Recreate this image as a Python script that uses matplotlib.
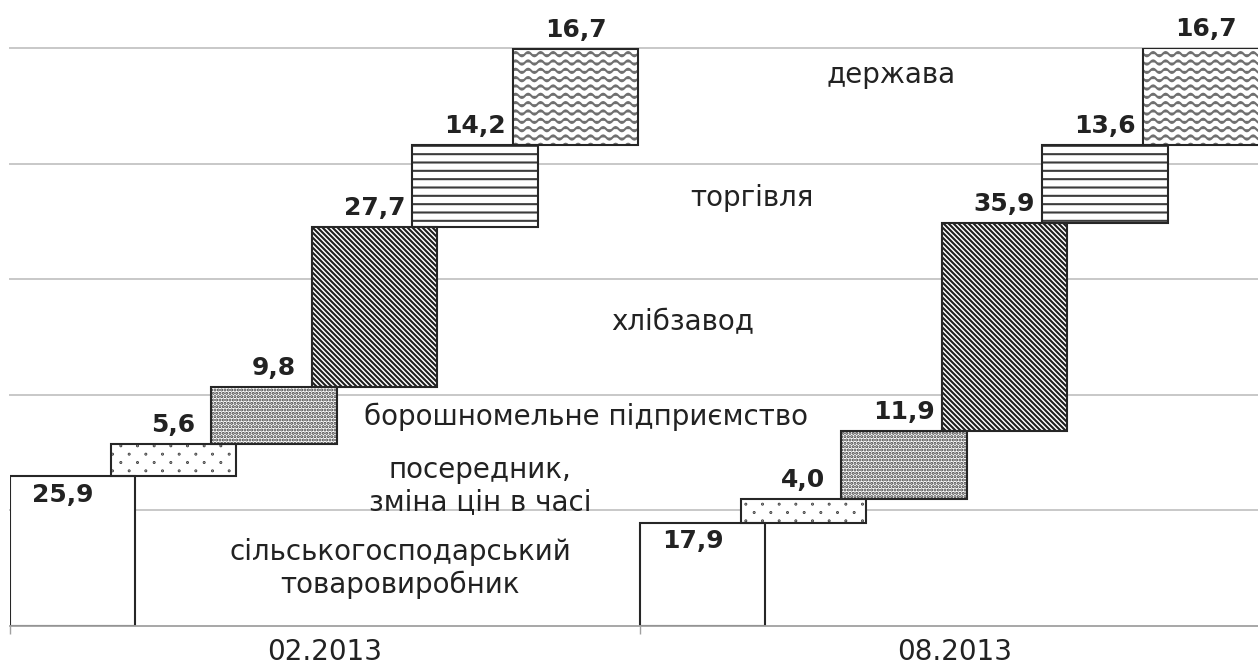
import numpy as np
import matplotlib
matplotlib.use("Agg")
import matplotlib.pyplot as plt
from matplotlib import hatch as mhatch
from matplotlib.path import Path

# Shares of the bread price (%) by link of the supply chain
periods = ["02.2013", "08.2013"]
stages = [
    "сільськогосподарський\nтоваровиробник",
    "посередник,\nзміна цін в часі",
    "борошномельне підприємство",
    "хлібзавод",
    "торгівля",
    "держава",
]
shares_feb = [25.9, 5.6, 9.8, 27.7, 14.2, 16.7]
shares_aug = [17.9, 4.0, 11.9, 35.9, 13.6, 16.7]


# ---- extra hatch textures ----
class WaveHatch(mhatch.HatchPatternBase):
    """Wavy horizontal lines, 6 rows per inch for each '*'."""
    def __init__(self, hatch, density):
        self.num_rows = int(hatch.count("*") * density)
        self.pts = 97
        self.num_vertices = self.num_rows * self.pts

    def set_vertices_and_codes(self, vertices, codes):
        x = np.linspace(0.0, 1.0, self.pts)
        for r in range(self.num_rows):
            y0 = (r + 0.5) / self.num_rows
            sl = slice(r * self.pts, (r + 1) * self.pts)
            vertices[sl, 0] = x
            vertices[sl, 1] = y0 + 0.021 * np.sin(2 * np.pi * 8 * x)
            codes[sl] = Path.LINETO
            codes[r * self.pts] = Path.MOVETO


class SparseDots(mhatch.HatchPatternBase):
    """Staggered lattice of small dots for each pair of 'o'."""
    def __init__(self, hatch, density):
        self.num_rows = int(hatch.count("o") * density)
        circ = Path.unit_circle()
        self.circ_v = circ.vertices * 0.004
        self.circ_c = circ.codes
        self.centers = []
        n = self.num_rows
        for r in range(n):
            y = (r + 0.5) / n
            off = 0.5 / n if r % 2 == 0 else 1.5 / n
            for c in range(n // 2):
                self.centers.append((off + c * 2.0 / n, y))
        self.num_vertices = len(self.centers) * len(self.circ_v)

    def set_vertices_and_codes(self, vertices, codes):
        n = len(self.circ_v)
        for i, (cx, cy) in enumerate(self.centers):
            vertices[i * n:(i + 1) * n] = self.circ_v + (cx, cy)
            codes[i * n:(i + 1) * n] = self.circ_c


class DenseDiagonal(mhatch.HatchPatternBase):
    """Lines running top-left to bottom-right, 20 per inch for each '|'."""
    def __init__(self, hatch, density):
        self.num_lines = int(hatch.count("|") * 40)
        self.num_vertices = (self.num_lines + 1) * 2 if self.num_lines else 0

    def set_vertices_and_codes(self, vertices, codes):
        steps = np.linspace(-0.5, 0.5, self.num_lines + 1)
        vertices[0::2, 0] = 0.0 + steps
        vertices[0::2, 1] = 1.0 + steps
        vertices[1::2, 0] = 1.0 + steps
        vertices[1::2, 1] = 0.0 + steps
        codes[0::2] = Path.MOVETO
        codes[1::2] = Path.LINETO


_types = mhatch._hatch_types
_types[_types.index(mhatch.Stars)] = WaveHatch
_types[_types.index(mhatch.SmallCircles)] = SparseDots
_types[_types.index(mhatch.VerticalHatch)] = DenseDiagonal

plt.rcParams["hatch.linewidth"] = 1.5
plt.rcParams["font.family"] = ["DejaVu Sans"]

hatches = [None, "oo", ".....", "|", "--", "**"]
hatch_colors = ["#262626", "#2e2e2e", "#383838", "#1e1e1e", "#3c3c3c", "#707070"]
bar_width = 0.199
bar_step = 0.1597

fig = plt.figure(figsize=(12.58, 6.69), dpi=100)
ax = fig.add_axes([10 / 1258, 43 / 669, 1248 / 1258, 578 / 669])

# horizontal grid
for gy in [20, 40, 60, 80, 100]:
    ax.axhline(gy, color="#c8c8c8", lw=1.4, zorder=0, clip_on=False)

for g, shares in enumerate([shares_feb, shares_aug]):
    bottoms = np.concatenate([[0], np.cumsum(shares)[:-1]])
    for i, (v, b) in enumerate(zip(shares, bottoms)):
        left = g + i * bar_step
        # texture layer
        ax.bar(left, v, bottom=b, width=bar_width, align="edge",
               color="white", edgecolor=hatch_colors[i], linewidth=0,
               hatch=hatches[i], zorder=2)
        # outline
        ax.bar(left, v, bottom=b, width=bar_width, align="edge",
               fill=False, edgecolor="#262626", linewidth=1.5, zorder=2.5)
        label = f"{v:.1f}".replace(".", ",")
        cx = left + bar_width / 2
        if i == 0:
            ax.annotate(label, (cx - 0.016, b + v), xytext=(0, -5),
                        textcoords="offset points", ha="center", va="top",
                        fontsize=18, fontweight="bold", color="#222222",
                        zorder=4)
        else:
            ax.annotate(label, (cx, b + v), xytext=(0, 5),
                        textcoords="offset points", ha="center", va="bottom",
                        fontsize=18, fontweight="bold", color="#222222",
                        zorder=4, annotation_clip=False)

# stage captions
stage_pos = [(0.619, 10.0), (0.746, 24.2), (0.914, 36.2),
             (1.068, 52.6), (1.178, 74.0), (1.398, 95.3)]
for text, (x, y) in zip(stages, stage_pos):
    ax.text(x, y, text, ha="center", va="center", fontsize=20,
            color="#222222", linespacing=1.2, zorder=3)

# category axis
for s in ["top", "right", "left"]:
    ax.spines[s].set_visible(False)
ax.spines["bottom"].set_color("#a0a0a0")
ax.spines["bottom"].set_linewidth(1.3)
ax.set_yticks([])
ax.set_xticks([0.5, 1.5])
ax.set_xticklabels(periods, fontsize=20, color="#222222")
ax.tick_params(axis="x", which="major", length=0, pad=9)
ax.set_xticks([0, 1], minor=True)
ax.tick_params(axis="x", which="minor", length=6, color="#a0a0a0", width=1)
ax.set_xlim(0, 1248 / 630)
ax.set_ylim(0, 100)

fig.savefig("out.png", dpi=100)
